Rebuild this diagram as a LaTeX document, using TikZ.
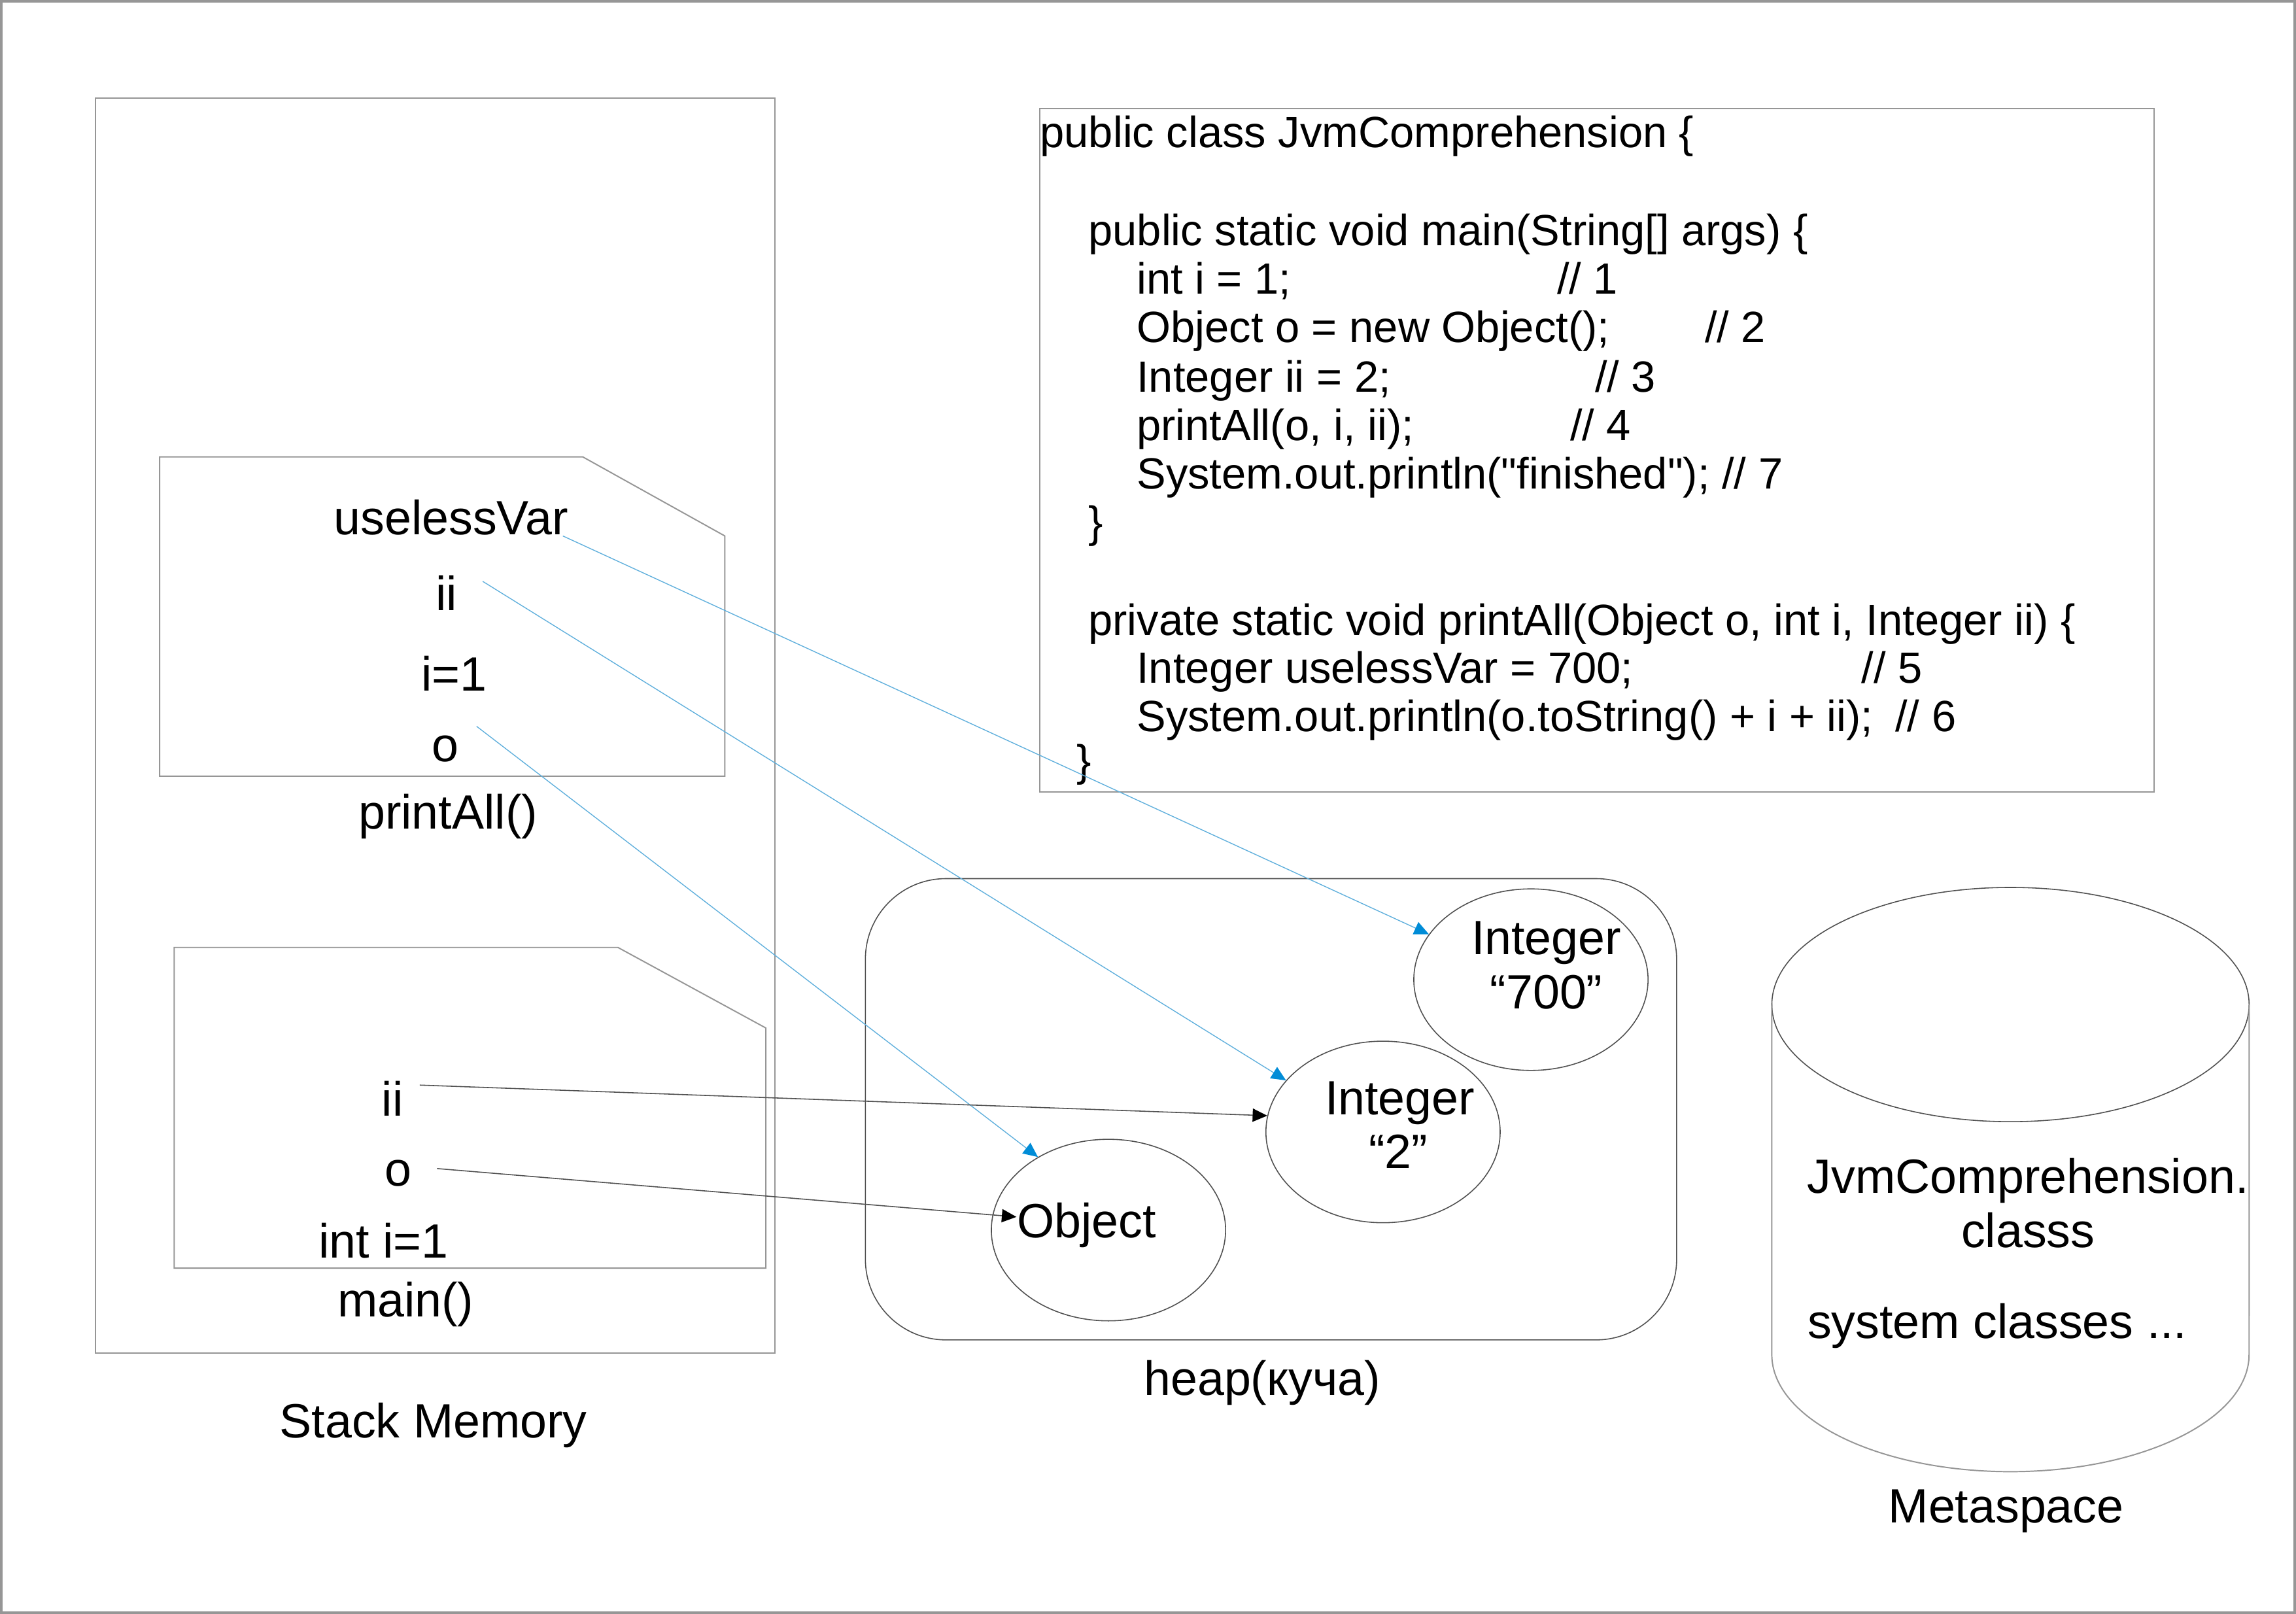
\documentclass[tikz,border=0pt]{standalone}
\usepackage{fontspec}
\setmainfont{Liberation Sans}
\usetikzlibrary{arrows.meta,positioning,shapes.geometric,calc}

\definecolor{refblue}{RGB}{95,175,220}
\definecolor{tipblue}{RGB}{0,140,215}
\definecolor{framegray}{RGB}{150,150,150}
\definecolor{linegray}{RGB}{80,80,80}

\begin{document}
\begin{tikzpicture}[
  x=0.02cm, y=-0.02cm,
  lbl/.style={font=\fontsize{18.7}{22}\selectfont, inner sep=0pt, text height=1.14em, text depth=0pt},
  code/.style={font=\fontsize{17}{19}\selectfont, inner sep=0pt, text height=1.1em, text depth=0pt, anchor=west},
  frame/.style={draw=framegray, line width=0.5pt},
  heapobj/.style={draw=linegray, ellipse, line width=0.4pt, minimum width=3.2cm, minimum height=2.48cm, inner sep=0pt},
  ref/.style={refblue, line width=0.35pt, -{Triangle[length=2mm, width=1.8mm, color=tipblue]}},
  val/.style={linegray, line width=0.4pt, -{Triangle[length=2mm, width=1.8mm, color=black]}}
]
\useasboundingbox (0,0) rectangle (1568,1102);

% page border
\draw[framegray, line width=1pt] (0.9,0.9) rectangle (1567.1,1101.1);

% Stack memory
\draw[frame] (65,67) rectangle (529,924);
\node[lbl] (stacklbl) at (296,972) {Stack Memory};

% printAll() frame
\draw[frame] (109,312) -- (398,312) -- (495,366) -- (495,530) -- (109,530) -- cycle;
\node[lbl] (puvar) at (308,355) {uselessVar};
\node[lbl] (pii) at (305,407) {ii};
\node[lbl] (pi) at (310,462) {i=1};
\node[lbl] (po) at (304,510) {o};
\node[lbl] (plbl) at (306,556) {printAll()};

% main() frame
\draw[frame] (119,647) -- (422,647) -- (523,702) -- (523,866) -- (119,866) -- cycle;
\node[lbl] (mii) at (268,752) {ii};
\node[lbl] (mo) at (272,800) {o};
\node[lbl] (mi) at (262,849) {int i=1};
\node[lbl] (mlbl) at (277,889) {main()};

% source code
\draw[frame] (710,74) rectangle (1471,541);
\node[code] (code1) at (710,91) {public class JvmComprehension \{};
\node[code] (code2) at (743,158) {public static void main(String[] args) \{};
\node[code] (code3) at (776,191) {int i = 1;};
\node[code] (cmt1) at (1063,191) {// 1};
\node[code] (code4) at (776,224) {Object o = new Object();};
\node[code] (cmt2) at (1164,224) {// 2};
\node[code] (code5) at (776,258) {Integer ii = 2;};
\node[code] (cmt3) at (1089,258) {// 3};
\node[code] (code6) at (776,291) {printAll(o, i, ii);};
\node[code] (cmt4) at (1072,291) {// 4};
\node[code] (code7) at (776,324) {System.out.println(\textquotedbl finished\textquotedbl); // 7};
\node[code] (code8) at (743,357) {\}};
\node[code] (code9) at (743,424) {private static void printAll(Object o, int i, Integer ii) \{};
\node[code] (code10) at (776,457) {Integer uselessVar = 700;};
\node[code] (cmt5) at (1271,457) {// 5};
\node[code] (code11) at (776,490) {System.out.println(o.toString() + i + ii);};
\node[code] (cmt6) at (1294,490) {// 6};
\node[code] (code12) at (735,520) {\}};

% heap
\draw[linegray, line width=0.4pt, rounded corners=1.1cm] (591,600) rectangle (1145,915);
\node[lbl] (heaplbl) at (862,943) {heap(куча)};
\node[heapobj] (int700) at (1045.5,669) {};
\node[lbl] (int700a) at (1056,642) {Integer};
\node[lbl] (int700b) at (1056,679) {“700”};
\node[heapobj] (int2) at (944.5,773) {};
\node[lbl] (int2a) at (956,751) {Integer};
\node[lbl] (int2b) at (955,788) {“2”};
\node[heapobj] (obj) at (757,840) {};
\node[lbl] (objtxt) at (742,835) {Object};

% metaspace
\draw[linegray, line width=0.4pt] (1373,686) ellipse [x radius=3.26cm, y radius=1.6cm];
\draw[framegray, line width=0.5pt] (1210,686) -- (1210,925)
  arc[start angle=180, end angle=360, x radius=3.26cm, y radius=1.6cm] -- (1536,686);
\node[lbl] (cls1) at (1385,805) {JvmComprehension.};
\node[lbl] (cls2) at (1385,842) {classs};
\node[lbl] (syscls) at (1364,904) {system classes ...};
\node[lbl] (metalbl) at (1370,1030) {Metaspace};

% references from the frames
\draw[ref] ($(puvar.east)+(-4,11)$) -- (int700.156);
\draw[ref] ($(pii.east)+(17,-10)$) -- (int2.152);
\draw[ref] ($(po.east)+(12,-14)$) -- (obj.134);
\draw[val] ($(mii.east)+(11,-11)$) -- (int2.172);
\draw[val] ($(mo.east)+(17,-2)$) -- (objtxt);

\end{tikzpicture}
\end{document}
